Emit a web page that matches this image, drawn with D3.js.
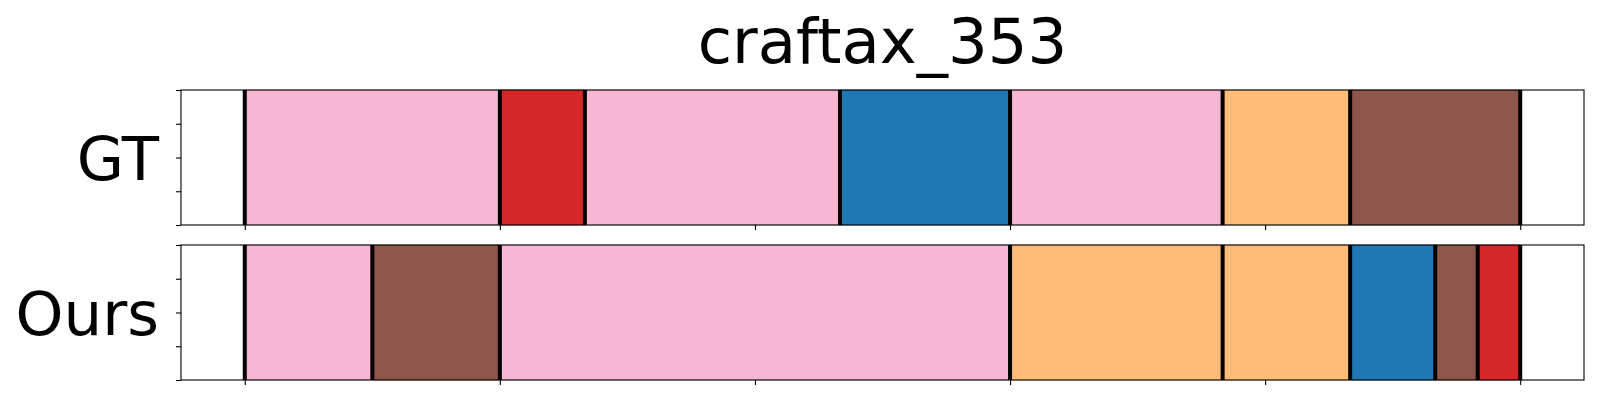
<!DOCTYPE html>
<html>
<head>
<meta charset="utf-8">
<script src="https://cdn.jsdelivr.net/npm/d3@7"></script>
<style>
  html, body { margin: 0; padding: 0; background: #fff; }
  svg { display: block; }
  text { font-family: "DejaVu Sans", sans-serif; }
</style>
</head>
<body>
<svg id="chart" width="1600" height="400"></svg>
<script>
// ---- data ----
const title = "craftax_353";
const totalLength = 30;
const xTicks = [0, 6, 12, 18, 24, 30];
const yTicks = [0, 0.25, 0.5, 0.75, 1];
const rowLabels = ["GT", "Ours"];
// segments: start, end, action class
const gtStarts  = [0, 6, 8, 14, 18, 23, 26];
const gtEnds    = [6, 8, 14, 18, 23, 26, 30];
const gtClasses = ["pink", "red", "pink", "blue", "pink", "orange", "brown"];
const oursStarts  = [0, 3, 6, 18, 23, 26, 28, 29];
const oursEnds    = [3, 6, 18, 23, 26, 28, 29, 30];
const oursClasses = ["pink", "brown", "pink", "orange", "orange", "blue", "brown", "red"];
const classNames  = ["blue", "orange", "red", "brown", "pink"];
const classColors = ["#1f77b4", "#ffbb78", "#d62728", "#8c564b", "#f7b6d2"];

// ---- layout ----
const svg = d3.select("#chart");
const left = 181, right = 1584;
const panels = [
  { top: 90, bottom: 225, label: rowLabels[0], starts: gtStarts, ends: gtEnds, classes: gtClasses },
  { top: 245, bottom: 380, label: rowLabels[1], starts: oursStarts, ends: oursEnds, classes: oursClasses }
];
const x = d3.scaleLinear().domain([-0.05 * totalLength, 1.05 * totalLength]).range([left, right]);
const color = d3.scaleOrdinal().domain(classNames).range(classColors);

svg.append("text")
  .attr("x", (left + right) / 2)
  .attr("y", 63)
  .attr("text-anchor", "middle")
  .attr("font-size", 62.5)
  .attr("fill", "#000")
  .text(title);

panels.forEach(p => {
  const y = d3.scaleLinear().domain([0, 1]).range([p.bottom, p.top]);
  const g = svg.append("g");
  const segs = p.starts.map((s, i) => ({ s, e: p.ends[i], c: p.classes[i] }));

  g.selectAll("rect.seg").data(segs).enter().append("rect")
    .attr("class", "seg")
    .attr("x", d => x(d.s))
    .attr("width", d => x(d.e) - x(d.s))
    .attr("y", y(1))
    .attr("height", y(0) - y(1))
    .attr("fill", d => color(d.c))
    .attr("stroke", d => d3.color(color(d.c)).darker(0.4))
    .attr("stroke-width", 0.6);

  const bounds = Array.from(new Set(segs.flatMap(d => [d.s, d.e])));
  g.selectAll("line.bd").data(bounds).enter().append("line")
    .attr("class", "bd")
    .attr("x1", d => x(d)).attr("x2", d => x(d))
    .attr("y1", y(1)).attr("y2", y(0))
    .attr("stroke", "#000")
    .attr("stroke-width", 4);

  // axes (no labels)
  g.append("g")
    .attr("transform", `translate(0,${p.bottom})`)
    .call(d3.axisBottom(x).tickValues(xTicks).tickSize(5).tickFormat(""))
    .call(a => a.select(".domain").remove())
    .call(a => a.selectAll("line").attr("stroke-width", 1.1));
  g.append("g")
    .attr("transform", `translate(${left},0)`)
    .call(d3.axisLeft(y).tickValues(yTicks).tickSize(5).tickFormat(""))
    .call(a => a.select(".domain").remove())
    .call(a => a.selectAll("line").attr("stroke-width", 1.1));

  // frame
  g.append("rect")
    .attr("x", left).attr("y", p.top)
    .attr("width", right - left).attr("height", p.bottom - p.top)
    .attr("fill", "none").attr("stroke", "#000").attr("stroke-width", 1.1);

  g.append("text")
    .attr("x", 159)
    .attr("y", (p.top + p.bottom) / 2 + 22)
    .attr("text-anchor", "end")
    .attr("font-size", 61)
    .attr("fill", "#000")
    .text(p.label);
});
</script>
</body>
</html>
